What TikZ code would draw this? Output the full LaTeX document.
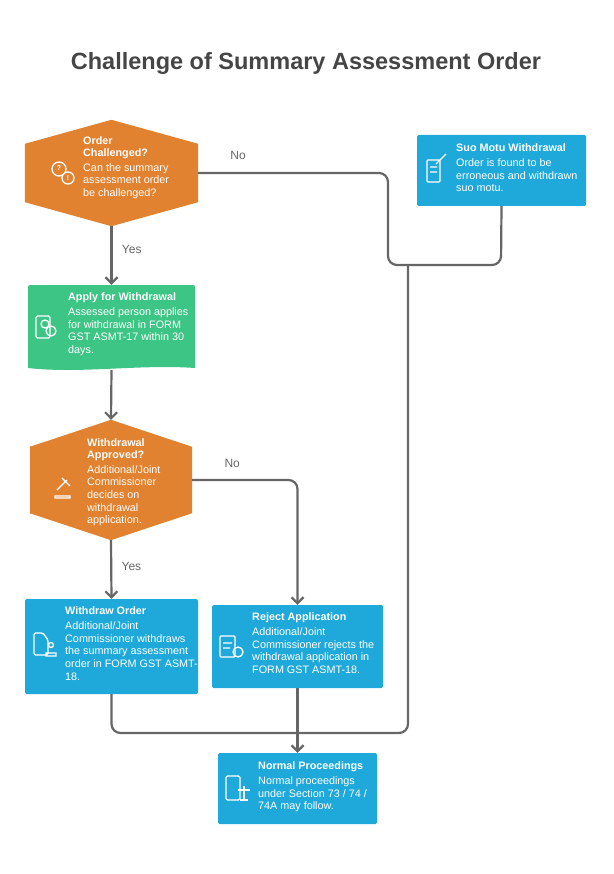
\documentclass[tikz,border=0pt]{standalone}
\usepackage{fontspec}
\setmainfont{Liberation Sans}
\usetikzlibrary{calc,positioning,arrows.meta}
\definecolor{orng}{HTML}{E0822F}
\definecolor{grn}{HTML}{3CC584}
\definecolor{blu}{HTML}{1FA9DA}
\definecolor{ln}{HTML}{666666}
\definecolor{ttl}{HTML}{454545}

\begin{document}
\begin{tikzpicture}[x=1pt,y=-1pt,
    box/.style = {fill=blu, minimum width=#1, inner sep=0, rounded corners=1.5},
    txt/.style = {text=white, align=left, anchor=north west, inner sep=0,
                  font=\fontsize{10.8}{12.6}\selectfont},
    lbl/.style = {text=ln, font=\fontsize{12}{13}\selectfont},
    flow/.style = {draw=ln, line width=2.2, rounded corners=9},
    arr/.style = {flow, -{Straight Barb[length=6,width=12]}},
    ico/.style = {draw=white, line width=1.3}]

    \useasboundingbox (0,0) rectangle (613,874);

    % Title
    \node[text=ttl, font=\fontsize{23.5}{26}\bfseries\selectfont] (title) at (306,63) {Challenge of Summary Assessment Order};

    % Shapes
    \node[minimum width=173, minimum height=106, inner sep=0] (d1) at (111.5,173) {};
    \fill[orng] (d1.north) -- ($(d1.north east)+(0,24)$) -- ($(d1.south east)+(0,-24)$) -- (d1.south)
        -- ($(d1.south west)+(0,-24)$) -- ($(d1.north west)+(0,24)$) -- cycle;
    \node[minimum width=168, minimum height=85, inner sep=0] (apply) at (111.5,327.5) {};
    \fill[grn] (28,287) -- (28,368) .. controls (80,374) and (140,364) .. (195,368) -- (195,287)
        [rounded corners=1.5] -- (195,285) -- (28,285) -- cycle;
    \node[minimum width=162, minimum height=120, inner sep=0] (d2) at (111,480) {};
    \fill[orng] (d2.north) -- ($(d2.north east)+(0,27)$) -- ($(d2.south east)+(0,-27)$) -- (d2.south)
        -- ($(d2.south west)+(0,-27)$) -- ($(d2.north west)+(0,27)$) -- cycle;
    \node[box=173, minimum height=95] (withdraw) at (111.5,646.5) {};
    \node[box=171, minimum height=83] (reject) at (297.5,646.5) {};
    \node[box=159, minimum height=71] (normal) at (297.5,788.5) {};
    \node[box=169, minimum height=71] (suo) at (501.5,170.5) {};

    % Texts
    \node[txt] (d1t) at (83,136) {\textbf{Order}\\\textbf{Challenged?}\\[2pt]Can the summary\\assessment order\\be challenged?};
    \node[txt] (applyt) at (68,292) {\textbf{Apply for Withdrawal}\\[3pt]Assessed person applies\\for withdrawal in FORM\\GST ASMT-17 within 30\\days.};
    \node[txt] (d2t) at (87,438) {\textbf{Withdrawal}\\\textbf{Approved?}\\[2pt]Additional/Joint\\Commissioner\\decides on\\withdrawal\\application.};
    \node[txt] (withdrawt) at (65,606) {\textbf{Withdraw Order}\\[3pt]Additional/Joint\\Commissioner withdraws\\the summary assessment\\order in FORM GST ASMT-\\18.};
    \node[txt] (rejectt) at (252,612) {\textbf{Reject Application}\\[3pt]Additional/Joint\\Commissioner rejects the\\withdrawal application in\\FORM GST ASMT-18.};
    \node[txt] (normalt) at (258,761) {\textbf{Normal Proceedings}\\[3pt]Normal proceedings\\under Section 73 / 74 /\\74A may follow.};
    \node[txt] (suot) at (456,143) {\textbf{Suo Motu Withdrawal}\\[3pt]Order is found to be\\erroneous and withdrawn\\suo motu.};

    % Icons
    \draw[ico] (59,169) circle (7) (68,178) circle (6);
    \node[text=white, font=\scriptsize\bfseries] at (68,178) {!};
    \node[text=white, font=\scriptsize\bfseries] at (59,168) {?};
    \draw[ico, rounded corners=1.5] (36,316) rectangle (50,338);
    \draw[ico] (45,324) circle (4) (51,331) circle (5);
    \draw[ico] (57,490) -- (67,480) (62,478) -- (70,486) (55,496) rectangle (70,498);
    \draw[ico, rounded corners=1.5] (34,633) -- (34,655) -- (48,655) -- (48,640) -- (43,633) -- cycle;
    \draw[ico] (51,645) circle (2.5) (46,653) rectangle (56,656);
    \draw[ico, rounded corners=1] (220,636) rectangle (235,657);
    \draw[ico] (223,643) -- (232,643) (223,648) -- (230,648) (238,652) circle (5);
    \draw[ico, rounded corners=1.5] (226,776) rectangle (240,800);
    \draw[ico] (238,790) -- (250,790) (244,786) -- (244,800) (240,800) -- (248,800);
    \draw[ico, rounded corners=1] (427,160) rectangle (440,182);
    \draw[ico] (430,167) -- (437,167) (430,172) -- (437,172) (436,164) -- (446,154);

    % Junction points
    \coordinate (j1) at (408,265);
    \coordinate (j2) at (297.5,733);

    % Edges
    \draw[arr] (d1.south) -- node[lbl, right=6, pos=0.4] {Yes} (apply.north);
    \draw[flow] (d1.east) -- node[lbl, yshift=18, pos=0.21] {No} (388,173) -- (388,265) -- (j1);
    \draw[flow] (suo.south) -- (501,265) -- (j1);
    \draw[flow] (j1) -- (408,733) -- (j2);
    \draw[arr] (111.5,370) -- (d2.north);
    \draw[arr] (d2.south) -- node[lbl, right=6, pos=0.45] {Yes} (withdraw.north);
    \draw[arr] (d2.east) -- node[lbl, yshift=17, pos=0.38] {No} (reject.north |- d2.east) -- (reject.north);
    \draw[flow] (withdraw.south) -- (111.5,733) -- (j2);
    \draw[arr] (reject.south) -- (normal.north);

\end{tikzpicture}
\end{document}
